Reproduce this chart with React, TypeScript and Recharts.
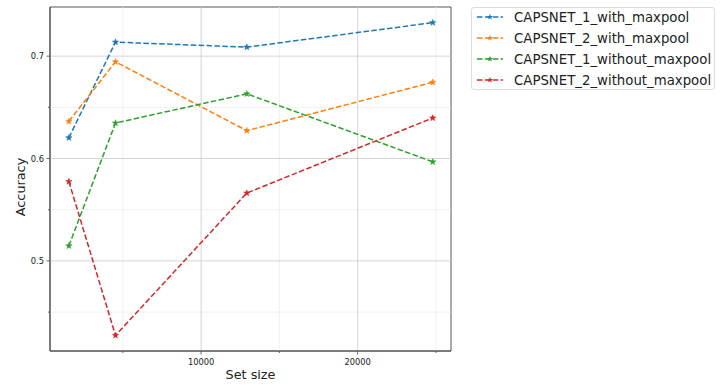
import { LineChart, Line, XAxis, YAxis, ReferenceLine, ReferenceArea } from 'recharts';

const setSizes = [1550, 4530, 12920, 24800];
const caps1WithPool = [0.6203, 0.7137, 0.7088, 0.7327];
const caps2WithPool = [0.6363, 0.6945, 0.6272, 0.6745];
const caps1NoPool = [0.5147, 0.6347, 0.6632, 0.5968];
const caps2NoPool = [0.5775, 0.4272, 0.5663, 0.6396];

const majorX = [10000, 20000];
const minorX = [5000, 15000, 25000];
const majorY = [0.5, 0.6, 0.7];
const minorY = [0.45, 0.55, 0.65];

const xDomain: [number, number] = [345, 25966];
const yDomain: [number, number] = [0.412, 0.748];

const FONT = '"DejaVu Sans", sans-serif';
const DASH = '5.5 2.4';

const series = [
  { key: 'c1w', name: 'CAPSNET_1_with_maxpool', color: '#1f77b4', values: caps1WithPool },
  { key: 'c2w', name: 'CAPSNET_2_with_maxpool', color: '#ff7f0e', values: caps2WithPool },
  { key: 'c1n', name: 'CAPSNET_1_without_maxpool', color: '#2ca02c', values: caps1NoPool },
  { key: 'c2n', name: 'CAPSNET_2_without_maxpool', color: '#d62728', values: caps2NoPool },
];

const data = setSizes.map((x, i) => {
  const row: Record<string, number> = { x };
  series.forEach((s) => { row[s.key] = s.values[i]; });
  return row;
});

function starPoints(cx: number, cy: number, r: number) {
  const pts: string[] = [];
  for (let i = 0; i < 10; i++) {
    const rad = i % 2 === 0 ? r : r * 0.42;
    const a = -Math.PI / 2 + (i * Math.PI) / 5;
    pts.push(`${cx + rad * Math.cos(a)},${cy + rad * Math.sin(a)}`);
  }
  return pts.join(' ');
}

function Star(color: string) {
  return (props: any) => {
    const { cx, cy, index } = props;
    if (cx == null || cy == null) return <g key={index} />;
    return <polygon key={index} points={starPoints(cx, cy, 3.3)} fill={color} stroke={color} strokeWidth={0.5} />;
  };
}

function XTick({ x, y, payload }: any) {
  const major = majorX.includes(payload.value);
  return (
    <g>
      <line x1={x} x2={x} y1={y} y2={y + (major ? 3.5 : 2)} stroke="#444" strokeWidth={0.8} />
      {major && (
        <text x={x} y={y + 14} textAnchor="middle" fontSize={8.3} fontFamily={FONT} fill="#222">
          {payload.value}
        </text>
      )}
    </g>
  );
}

function YTick({ x, y, payload }: any) {
  const major = majorY.some((v) => Math.abs(v - payload.value) < 1e-9);
  return (
    <g>
      <line x1={x} x2={x - (major ? 3.5 : 2)} y1={y} y2={y} stroke="#444" strokeWidth={0.8} />
      {major && (
        <text x={x - 6} y={y + 3} textAnchor="end" fontSize={8.3} fontFamily={FONT} fill="#222">
          {payload.value.toFixed(1)}
        </text>
      )}
    </g>
  );
}

function LegendBox() {
  return (
    <div
      style={{
        position: 'absolute', left: 471, top: 7, width: 244, height: 83,
        border: '1px solid #dcdcdc', borderRadius: 3, background: '#fff', boxSizing: 'border-box',
      }}
    >
      {series.map((s, i) => (
        <div key={s.key} style={{ position: 'absolute', left: 4, top: 0 + i * 21, height: 18, display: 'flex', alignItems: 'center' }}>
          <svg width={28} height={10} style={{ display: 'block' }}>
            <line x1={1} x2={27} y1={5} y2={5} stroke={s.color} strokeWidth={1.5} strokeDasharray={DASH} />
            <polygon points={starPoints(14, 5, 3.2)} fill={s.color} />
          </svg>
          <span style={{ marginLeft: 10, fontFamily: FONT, fontSize: 13.3, color: '#222', whiteSpace: 'nowrap' }}>{s.name}</span>
        </div>
      ))}
    </div>
  );
}

export default function App() {
  return (
    <div style={{ position: 'absolute', left: 0, top: 0, width: 728, height: 385, background: '#fff' }}>
      <LineChart width={728} height={385} data={data} margin={{ top: 7, right: 277, bottom: 0, left: 0 }}>
        <XAxis
          dataKey="x" type="number" domain={xDomain} allowDataOverflow
          ticks={[...minorX, ...majorX].sort((a, b) => a - b)}
          height={34} tickSize={0} tickMargin={0} tick={<XTick />}
          axisLine={{ stroke: '#444', strokeWidth: 0.9 }}
          label={{ content: () => <text x={250.5} y={379} textAnchor="middle" fontSize={12.8} fontFamily={FONT} fill="#222">Set size</text> }}
        />
        <YAxis
          type="number" domain={yDomain} allowDataOverflow
          ticks={[...minorY, ...majorY].sort((a, b) => a - b)}
          width={50} tickSize={0} tickMargin={0} tick={<YTick />}
          axisLine={{ stroke: '#444', strokeWidth: 0.9 }}
          label={{ content: () => <text x={25} y={187} transform="rotate(-90 25 187)" textAnchor="middle" fontSize={12.8} fontFamily={FONT} fill="#222">Accuracy</text> }}
        />
        {minorX.map((v) => <ReferenceLine key={'mx' + v} x={v} stroke="#ececec" strokeWidth={0.8} />)}
        {minorY.map((v) => <ReferenceLine key={'my' + v} y={v} stroke="#ececec" strokeWidth={0.8} />)}
        {majorX.map((v) => <ReferenceLine key={'Mx' + v} x={v} stroke="#cacaca" strokeWidth={0.8} />)}
        {majorY.map((v) => <ReferenceLine key={'My' + v} y={v} stroke="#cacaca" strokeWidth={0.8} />)}
        <ReferenceArea x1={xDomain[0]} x2={xDomain[1]} y1={yDomain[0]} y2={yDomain[1]} fill="none" stroke="#444" strokeWidth={0.9} />
        {series.map((s) => (
          <Line
            key={s.key} dataKey={s.key} name={s.name} type="linear"
            stroke={s.color} strokeWidth={1.5} strokeDasharray={DASH}
            dot={Star(s.color)} activeDot={false} isAnimationActive={false}
          />
        ))}
      </LineChart>
      <LegendBox />
    </div>
  );
}
